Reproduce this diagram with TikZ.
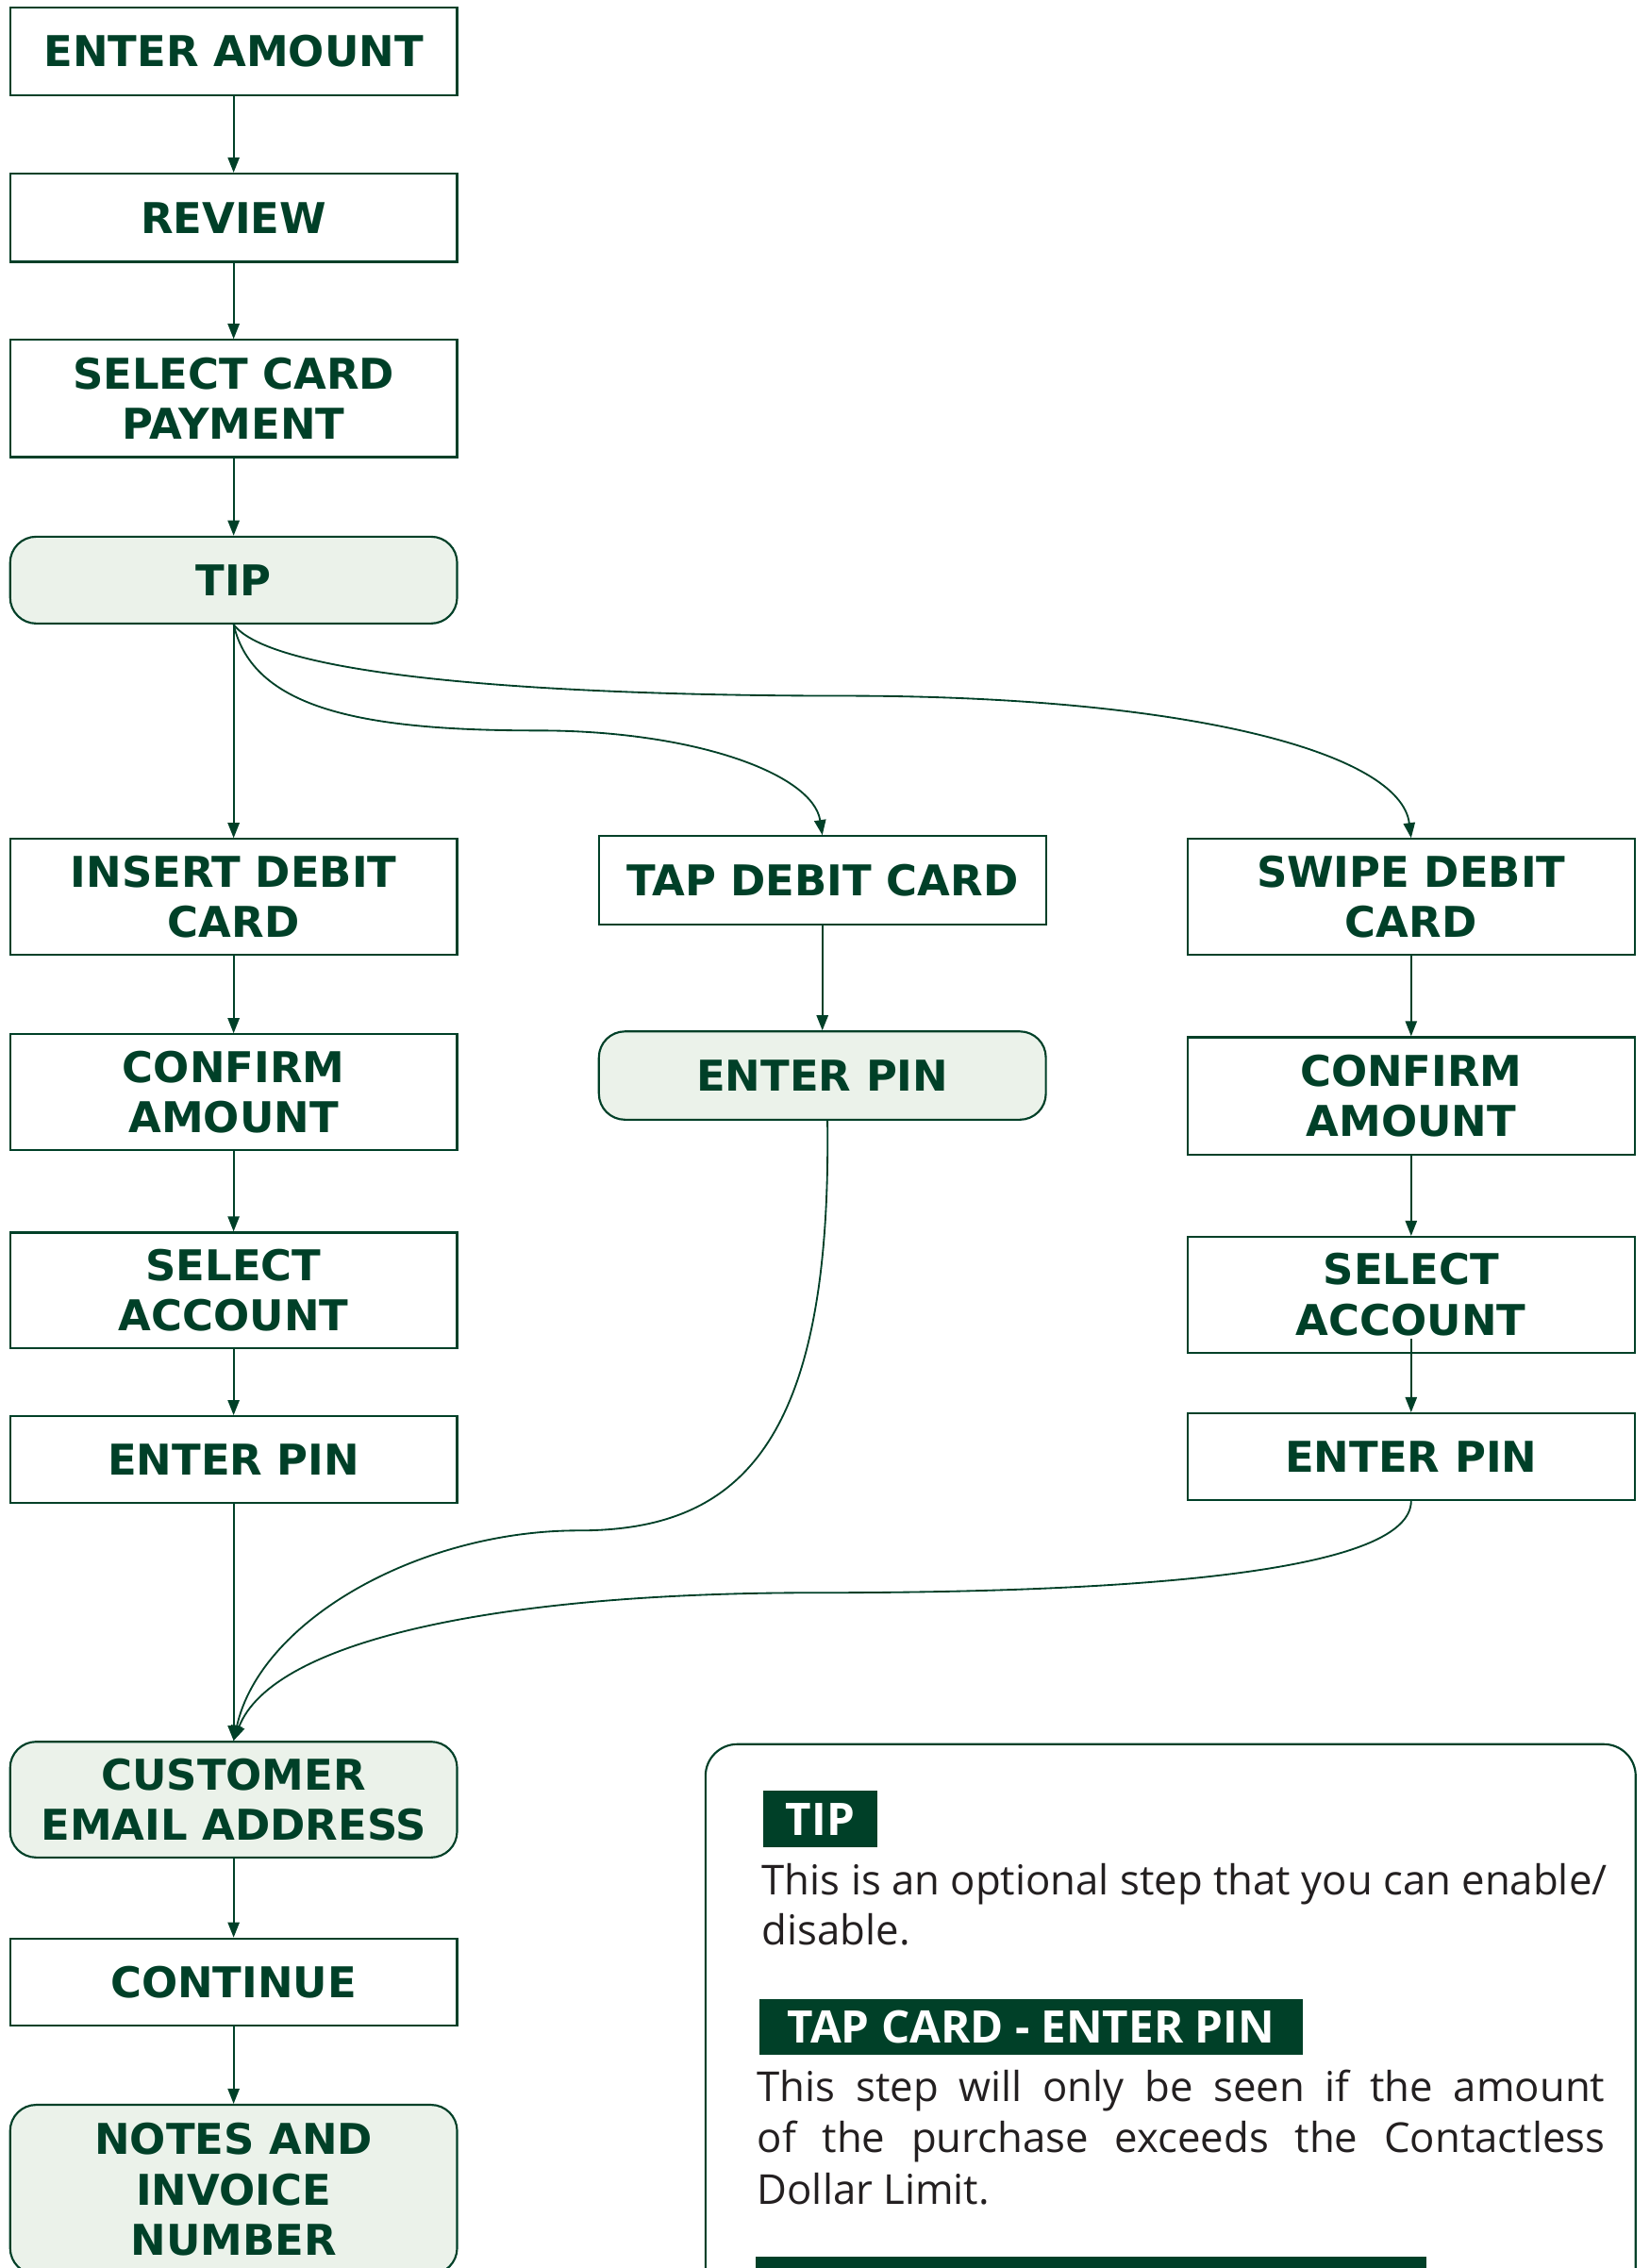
\documentclass[tikz,border=0pt]{standalone}
\usepackage{fontspec}
\setmainfont{Open Sans}
\newfontfamily\labelfont{DejaVu Sans}
\newfontfamily\notefont{Open Sans}
\usetikzlibrary{arrows.meta}
\definecolor{dkgreen}{RGB}{0,64,40}
\definecolor{ltgreen}{RGB}{235,242,234}
\definecolor{bodytext}{RGB}{35,31,32}
\begin{document}
\begin{tikzpicture}[x=1pt,y=-1pt,
 stepbox/.style={draw=dkgreen, line width=1.4pt, fill=white, minimum width=309pt, inner sep=0pt, align=center, text=dkgreen, font=\labelfont\bfseries\fontsize{29.3}{35}\selectfont},
 softbox/.style={stepbox, fill=ltgreen, rounded corners=18pt},
 flow/.style={draw=dkgreen, line width=1.2pt, -{Triangle[length=10.5pt,width=8pt]}},
 tag/.style={fill=dkgreen, text=white, inner sep=0pt, font=\notefont\bfseries\fontsize{31}{36}\selectfont},
 note/.style={text=bodytext, inner sep=0pt, anchor=base west, font=\notefont\fontsize{28.5}{35}\selectfont}
]
\useasboundingbox (0,0) rectangle (1140,1567.8);
\clip (0,0) rectangle (1140,1567.8);

% left column
\node[stepbox, minimum height=61pt] (amount) at (161.5,35.5) {ENTER AMOUNT};
\node[stepbox, minimum height=61pt] (review) at (161.5,150.5) {REVIEW};
\node[stepbox, minimum height=81pt] (select) at (161.5,275.5) {SELECT CARD\\PAYMENT};
\node[softbox, minimum height=60pt] (tip) at (161.5,401) {TIP};
\node[stepbox, minimum height=80pt] (insert) at (161.5,620) {INSERT DEBIT\\CARD};
\node[stepbox, minimum height=80pt] (confL) at (161.5,755) {CONFIRM\\AMOUNT};
\node[stepbox, minimum height=80pt] (accL) at (161.5,892) {SELECT\\ACCOUNT};
\node[stepbox, minimum height=60pt] (pinL) at (161.5,1009) {ENTER PIN};
\node[softbox, minimum height=80pt] (email) at (161.5,1244) {CUSTOMER\\EMAIL ADDRESS};
\node[stepbox, minimum height=60pt] (cont) at (161.5,1370) {CONTINUE};
\node[softbox, minimum height=117pt] (notes) at (161.5,1513.5) {NOTES AND\\INVOICE\\NUMBER};

% middle column
\node[stepbox, minimum height=61pt] (tap) at (568.5,608.5) {TAP DEBIT CARD};
\node[softbox, minimum height=61pt] (pinM) at (568.5,743.5) {ENTER PIN};

% right column
\node[stepbox, minimum height=80pt] (swipe) at (975.5,620) {SWIPE DEBIT\\CARD};
\node[stepbox, minimum height=81pt] (confR) at (975.5,757.5) {CONFIRM\\AMOUNT};
\node[stepbox, minimum height=80pt] (accR) at (975.5,895) {SELECT\\ACCOUNT};
\node[stepbox, minimum height=60pt] (pinR) at (975.5,1007) {ENTER PIN};

% waypoints
\coordinate (w1) at (372,505);
\coordinate (w2) at (583,481);
\coordinate (w3) at (400,1058);
\coordinate (w4) at (564,1101);

% connectors
\draw[flow] (amount) -- (review);
\draw[flow] (review) -- (select);
\draw[flow] (select) -- (tip);
\draw[flow] (tip) -- (insert);
\draw[flow] (tip.south) .. controls (175,490) and (250,505) .. (w1) .. controls (480,505) and (562,535) .. (tap.north);
\draw[flow] (tip.south) .. controls (190,470) and (400,481) .. (w2) .. controls (820,481) and (968,520) .. (swipe.north);
\draw[flow] (tap) -- (pinM);
\draw[flow] (insert) -- (confL);
\draw[flow] (confL) -- (accL);
\draw[flow] (accL) -- (pinL);
\draw[flow] (pinL) -- (email);
\draw[flow] (swipe) -- (confR);
\draw[flow] (confR) -- (accR);
\draw[flow] ([yshift=10pt]accR.south) -- (pinR.north);
\draw[flow] ([xshift=3.5pt]pinM.south) .. controls (575,1000) and (510,1058) .. (w3) .. controls (290,1058) and (180,1120) .. (email.north);
\draw[flow] (pinR.south) .. controls (975,1085) and (800,1101) .. (w4) .. controls (340,1101) and (188,1135) .. (email.north);
\draw[flow] (email) -- (cont);
\draw[flow] (cont) -- (notes);

% info panel
\node[draw=dkgreen, line width=1.4pt, rounded corners=22pt, minimum width=643pt, minimum height=420pt, anchor=north west, inner sep=0pt] (panel) at (487,1205) {};
\node[tag, minimum width=79pt, minimum height=39pt] (tiptag) at (567,1257.5) {TIP};
\node[note] (n1a) at (526.6,1309.7) {This is an optional step that you can enable/};
\node[note] (n1b) at (526.6,1344.5) {disable.};
\node[tag, minimum width=376pt, minimum height=38.5pt] (taptag) at (712.8,1401) {TAP CARD - ENTER PIN};
\node[note] (n2a) at (523.3,1453) {\makebox[586pt][s]{This step will only be seen if the amount}};
\node[note] (n2b) at (523.3,1488) {\makebox[586pt][s]{of the purchase exceeds the Contactless}};
\node[note] (n2c) at (523.3,1523.5) {Dollar Limit.};
\node[fill=dkgreen, minimum width=464pt, minimum height=30pt, anchor=north west, inner sep=0pt] (nexttag) at (522,1560) {};
\end{tikzpicture}
\end{document}
